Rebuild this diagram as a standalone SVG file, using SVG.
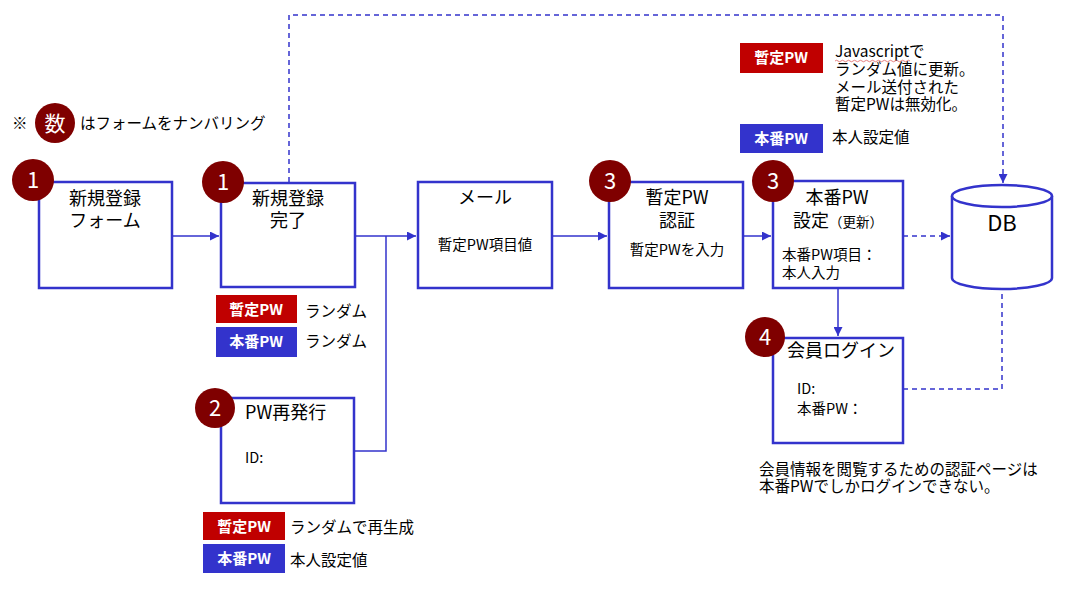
<svg xmlns="http://www.w3.org/2000/svg" width="1077" height="589" viewBox="0 0 1077 589">
<defs>
<marker id="arr" viewBox="0 0 10 10" refX="10" refY="5" markerWidth="9" markerHeight="9" markerUnits="userSpaceOnUse" orient="auto"><path d="M0,0 L10,5 L0,10 z" fill="#3333cc"/></marker>
<style>
text{font-family:"Noto Sans CJK JP","Liberation Sans",sans-serif;fill:#000}
.box{fill:#fff;stroke:#3333cc;stroke-width:2.5}
.num{fill:#7f0000}
.numt{fill:#fff;font-size:22px;text-anchor:middle}
.t18{font-size:18px}
.t14{font-size:14.5px}
.t15{font-size:15.5px}
.c{text-anchor:middle}
.ln{fill:none;stroke:#3333cc;stroke-width:1.5}
.dash{fill:none;stroke:#3333cc;stroke-width:1.5;stroke-dasharray:5,4}
.red{fill:#c00000}
.blue{fill:#3333cc}
.lbl{fill:#fff;font-size:15px;font-weight:bold;text-anchor:middle}
</style>
</defs>
<rect width="1077" height="589" fill="#fff"/>

<g id="connectors">
<path class="ln" d="M172,236 H219" marker-end="url(#arr)"/>
<path class="ln" d="M355,236 H416" marker-end="url(#arr)"/>
<path class="ln" d="M386,236 V451 H354"/>
<path class="ln" d="M552,236 H607" marker-end="url(#arr)"/>
<path class="ln" d="M743,236 H771" marker-end="url(#arr)"/>
<path class="dash" d="M903,236 H950" marker-end="url(#arr)"/>
<path class="ln" d="M838,288 V336" marker-end="url(#arr)"/>
<path class="dash" d="M903,389 H1002 V290"/>
<path class="dash" d="M289,182 V15 H1003 V183" marker-end="url(#arr)"/>
</g>

<g id="legend-note">
<text x="12" y="129" class="t15">※</text>
<circle class="num" cx="55" cy="123" r="20"/>
<text x="55" y="131" class="numt" style="font-size:21px">数</text>
<text x="80" y="129" class="t15">はフォームをナンバリング</text>
</g>

<g id="n-form">
<rect class="box" x="39" y="182" width="133" height="106"/>
<text x="105" y="205" class="t18 c">新規登録</text>
<text x="105" y="227" class="t18 c">フォーム</text>
<circle class="num" cx="33" cy="180" r="21"/>
<text x="33" y="188" class="numt">1</text>
</g>

<g id="n-complete">
<rect class="box" x="221" y="183" width="134" height="104"/>
<text x="288" y="205" class="t18 c">新規登録</text>
<text x="288" y="227" class="t18 c">完了</text>
<circle class="num" cx="223" cy="182" r="21"/>
<text x="223" y="190" class="numt">1</text>
</g>

<g id="n-complete-legend">
<rect class="red" x="216" y="295" width="81" height="28"/>
<text x="256" y="315" class="lbl">暫定PW</text>
<text x="305" y="317" class="t15">ランダム</text>
<rect class="blue" x="216" y="327" width="81" height="30"/>
<text x="256" y="347" class="lbl">本番PW</text>
<text x="305" y="347" class="t15">ランダム</text>
</g>

<g id="n-mail">
<rect class="box" x="418" y="182" width="134" height="106"/>
<text x="485" y="204" class="t18 c">メール</text>
<text x="485" y="250" class="t14 c">暫定PW項目値</text>
</g>

<g id="n-temp">
<rect class="box" x="609" y="182" width="134" height="106"/>
<text x="677" y="204" class="t18 c">暫定PW</text>
<text x="677" y="227" class="t18 c">認証</text>
<text x="677" y="255" class="t14 c">暫定PWを入力</text>
<circle class="num" cx="610" cy="181" r="21"/>
<text x="610" y="189" class="numt">3</text>
</g>

<g id="n-real">
<rect class="box" x="773" y="181" width="130" height="107"/>
<text x="837" y="204" class="t18 c">本番PW</text>
<text x="793" y="227" class="t18">設定<tspan style="font-size:13.5px">（更新）</tspan></text>
<text x="782" y="260" class="t14">本番PW項目：</text>
<text x="782" y="278" class="t14">本人入力</text>
<circle class="num" cx="773" cy="181" r="21"/>
<text x="773" y="189" class="numt">3</text>
</g>

<g id="n-db">
<path d="M952,196 V278 A50,11 0 0 0 1052,278 V196" fill="#fff" stroke="#3333cc" stroke-width="2.5"/>
<ellipse cx="1002" cy="196" rx="50" ry="11" fill="#fff" stroke="#3333cc" stroke-width="2.5"/>
<text x="1002" y="231" class="c" style="font-size:22px">DB</text>
</g>

<g id="top-legend">
<rect class="red" x="740" y="43" width="83" height="30"/>
<text x="781" y="63" class="lbl">暫定PW</text>
<text x="835" y="57" class="t15">Javascriptで</text>
<path d="M835,61 q1.5,-1.5 3,0 t3,0 t3,0 t3,0 t3,0 t3,0 t3,0 t3,0 t3,0 t3,0 t3,0 t3,0 t3,0 t3,0 t3,0 t3,0 t3,0 t3,0 t3,0 t3,0 t3,0 t3,0 t3,0 t3,0 t3,0" fill="none" stroke="#e06060" stroke-width="0.8"/>
<text x="835" y="75" class="t15">ランダム値に更新。</text>
<text x="835" y="93" class="t15">メール送付された</text>
<text x="835" y="110" class="t15">暫定PWは無効化。</text>
<rect class="blue" x="740" y="124" width="83" height="29"/>
<text x="781" y="144" class="lbl">本番PW</text>
<text x="832" y="143" class="t15">本人設定値</text>
</g>

<g id="n-reissue">
<rect class="box" x="221" y="398" width="133" height="105"/>
<text x="245" y="419" class="t18">PW再発行</text>
<text x="245" y="463" class="t14">ID:</text>
<circle class="num" cx="215" cy="408" r="20"/>
<text x="215" y="416" class="numt">2</text>
</g>

<g id="n-reissue-legend">
<rect class="red" x="203" y="512" width="82" height="28"/>
<text x="244" y="532" class="lbl">暫定PW</text>
<text x="290" y="533" class="t15">ランダムで再生成</text>
<rect class="blue" x="203" y="544" width="82" height="29"/>
<text x="244" y="564" class="lbl">本番PW</text>
<text x="290" y="566" class="t15">本人設定値</text>
</g>

<g id="n-login">
<rect class="box" x="773" y="338" width="130" height="105"/>
<text x="787" y="357" class="t18">会員ログイン</text>
<text x="797" y="394" class="t14">ID:</text>
<text x="797" y="414" class="t14">本番PW：</text>
<circle class="num" cx="765" cy="337" r="20"/>
<text x="765" y="345" class="numt">4</text>
</g>

<g id="footer-note">
<text x="759" y="475" class="t15">会員情報を閲覧するための認証ページは</text>
<text x="759" y="492" class="t15">本番PWでしかログインできない。</text>
</g>
</svg>
